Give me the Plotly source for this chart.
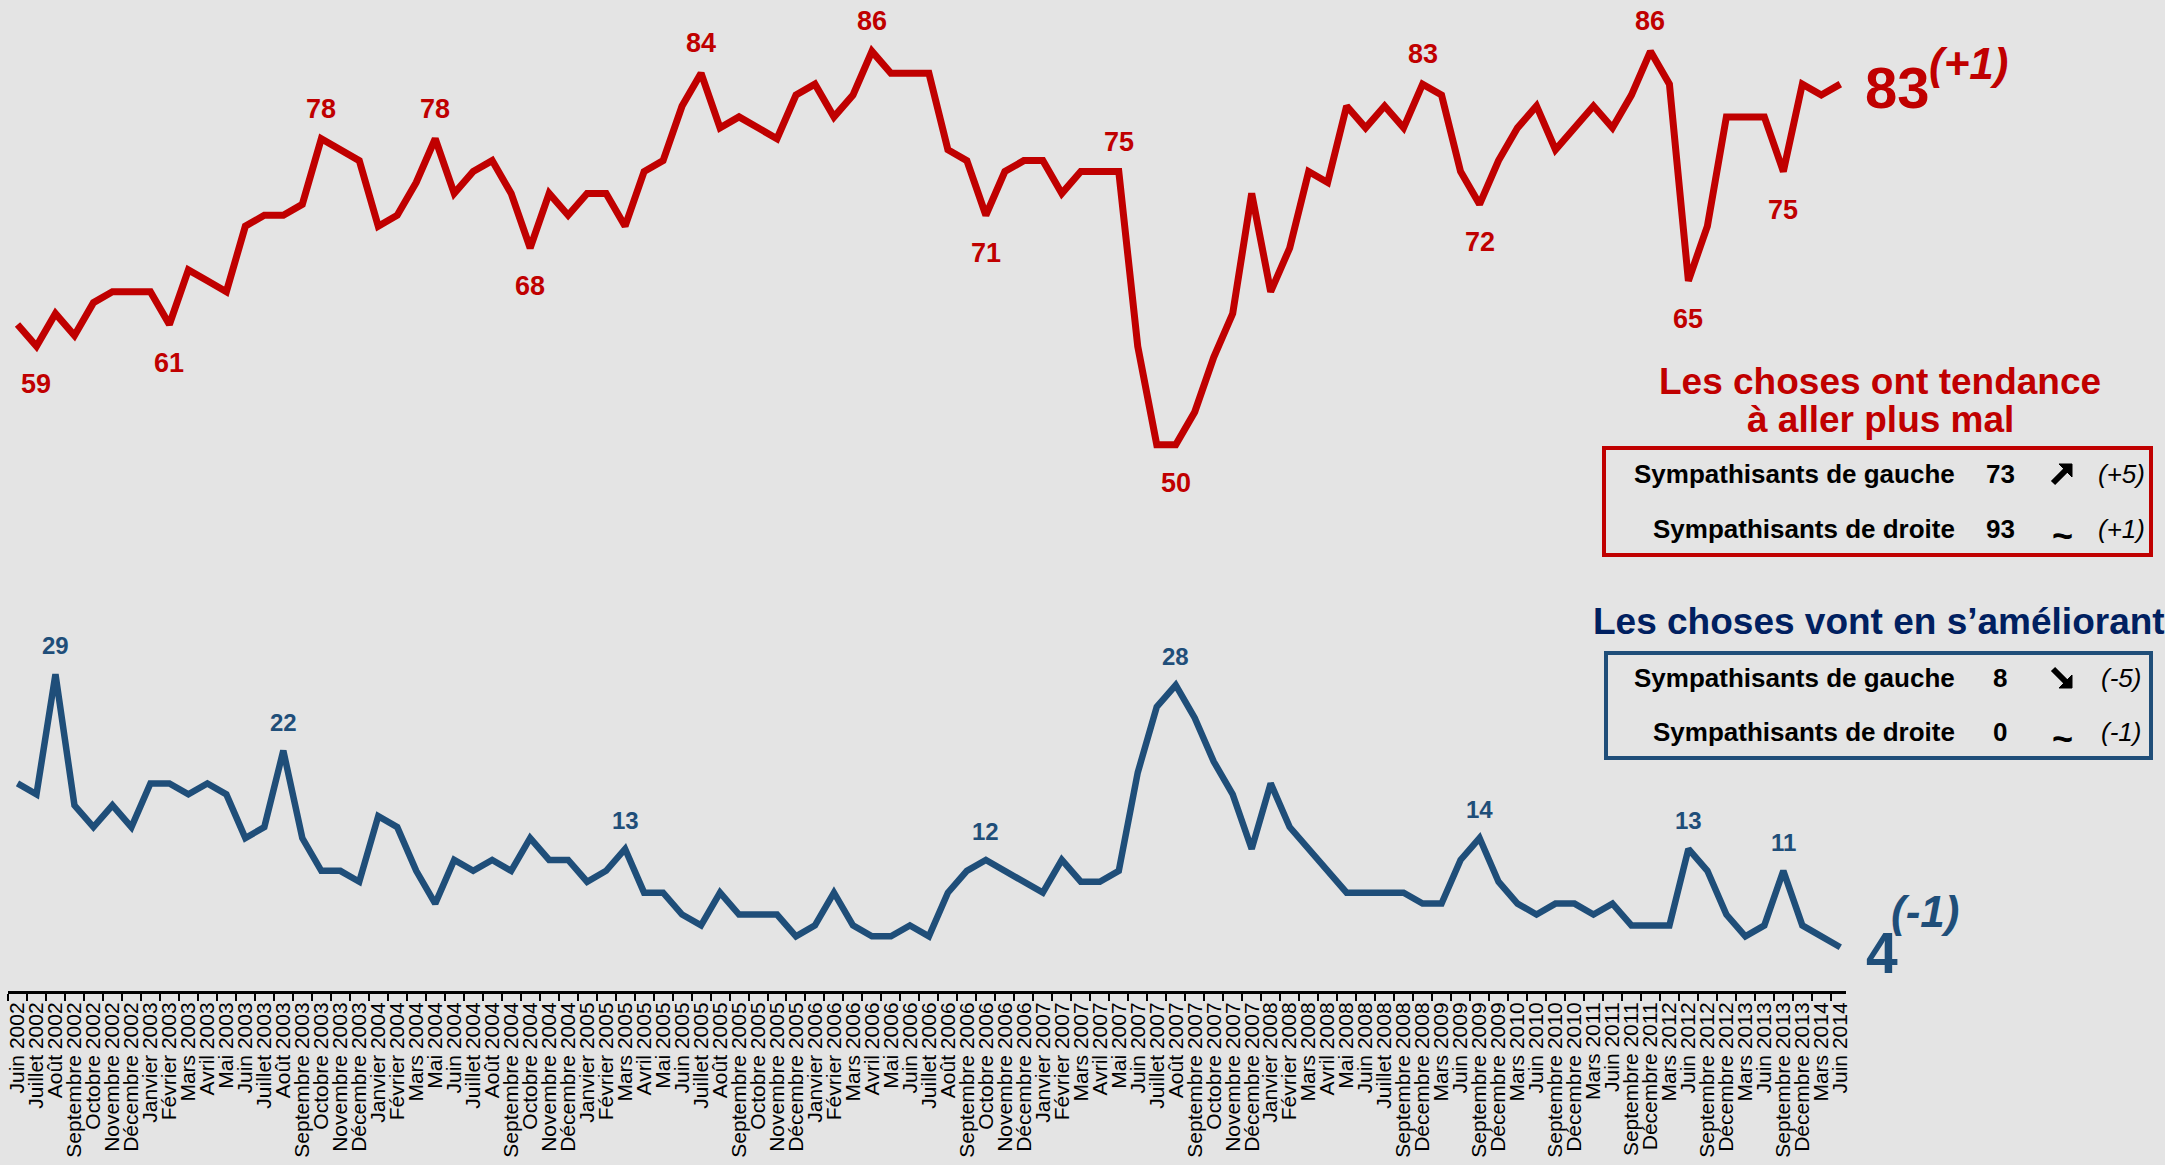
import plotly.graph_objects as go

categories = [
    "Juin 2002", "Juillet 2002", "Août 2002", "Septembre 2002", "Octobre 2002", "Novembre 2002", "Décembre 2002",
    "Janvier 2003", "Février 2003", "Mars 2003", "Avril 2003", "Mai 2003", "Juin 2003", "Juillet 2003", "Août 2003",
    "Septembre 2003", "Octobre 2003", "Novembre 2003", "Décembre 2003",
    "Janvier 2004", "Février 2004", "Mars 2004", "Mai 2004", "Juin 2004", "Juillet 2004", "Août 2004",
    "Septembre 2004", "Octobre 2004", "Novembre 2004", "Décembre 2004",
    "Janvier 2005", "Février 2005", "Mars 2005", "Avril 2005", "Mai 2005", "Juin 2005", "Juillet 2005", "Août 2005",
    "Septembre 2005", "Octobre 2005", "Novembre 2005", "Décembre 2005",
    "Janvier 2006", "Février 2006", "Mars 2006", "Avril 2006", "Mai 2006", "Juin 2006", "Juillet 2006", "Août 2006",
    "Septembre 2006", "Octobre 2006", "Novembre 2006", "Décembre 2006",
    "Janvier 2007", "Février 2007", "Mars 2007", "Avril 2007", "Mai 2007", "Juin 2007", "Juillet 2007", "Août 2007",
    "Septembre 2007", "Octobre 2007", "Novembre 2007", "Décembre 2007",
    "Janvier 2008", "Février 2008", "Mars 2008", "Avril 2008", "Mai 2008", "Juin 2008", "Juillet 2008",
    "Septembre 2008", "Décembre 2008",
    "Mars 2009", "Juin 2009", "Septembre 2009", "Décembre 2009",
    "Mars 2010", "Juin 2010", "Septembre 2010", "Décembre 2010",
    "Mars 2011", "Juin 2011", "Septembre 2011", "Décembre 2011",
    "Mars 2012", "Juin 2012", "Septembre 2012", "Décembre 2012",
    "Mars 2013", "Juin 2013", "Septembre 2013", "Décembre 2013",
    "Mars 2014", "Juin 2014",
]

plus_mal = [
    61, 59, 62, 60, 63, 64, 64, 64, 61, 66,
    65, 64, 70, 71, 71, 72, 78, 77, 76, 70,
    71, 74, 78, 73, 75, 76, 73, 68, 73, 71,
    73, 73, 70, 75, 76, 81, 84, 79, 80, 79,
    78, 82, 83, 80, 82, 86, 84, 84, 84, 77,
    76, 71, 75, 76, 76, 73, 75, 75, 75, 59,
    50, 50, 53, 58, 62, 73, 64, 68, 75, 74,
    81, 79, 81, 79, 83, 82, 75, 72, 76, 79,
    81, 77, 79, 81, 79, 82, 86, 83, 65, 70,
    80, 80, 80, 75, 83, 82, 83,
]

ameliorant = [
    19, 18, 29, 17, 15, 17, 15, 19, 19, 18,
    19, 18, 14, 15, 22, 14, 11, 11, 10, 16,
    15, 11, 8, 12, 11, 12, 11, 14, 12, 12,
    10, 11, 13, 9, 9, 7, 6, 9, 7, 7,
    7, 5, 6, 9, 6, 5, 5, 6, 5, 9,
    11, 12, 11, 10, 9, 12, 10, 10, 11, 20,
    26, 28, 25, 21, 18, 13, 19, 15, 13, 11,
    9, 9, 9, 9, 8, 8, 12, 14, 10, 8,
    7, 8, 8, 7, 8, 6, 6, 6, 13, 11,
    7, 5, 6, 11, 6, 5, 4,
]

# which points carry a value label
red_labels_above = [16, 22, 36, 45, 58, 74, 86]
red_labels_below = [1, 8, 27, 51, 61, 77, 88, 93]
blue_labels_above = [2, 14, 32, 51, 61, 77, 88, 93]

red_last_change = "(+1)"
blue_last_change = "(-1)"

red_title_lines = ["Les choses ont tendance", "à aller plus mal"]
blue_title = "Les choses vont en s’améliorant"
row_labels = ["Sympathisants de gauche", "Sympathisants de droite"]
red_values = ["73", "93"]
red_trends = ["up", "flat"]
red_changes = ["(+5)", "(+1)"]
blue_values = ["8", "0"]
blue_trends = ["down", "flat"]
blue_changes = ["(-5)", "(-1)"]

RED = "#C00000"
BLUE = "#1F4E79"
NAVY = "#002060"
BG = "#E4E4E4"
FONT = "Liberation Sans, Arial, sans-serif"

W, H = 2165, 1165


def px(x):
    return x / W


def py(y):
    return 1 - y / H


fig = go.Figure()
fig.add_trace(go.Scatter(x=categories, y=plus_mal, mode="lines",
                         line=dict(color=RED, width=7), hoverinfo="x+y", showlegend=False))
fig.add_trace(go.Scatter(x=categories, y=ameliorant, mode="lines",
                         line=dict(color=BLUE, width=6.5), hoverinfo="x+y", showlegend=False))

ann = []
for i in red_labels_above:
    ann.append(dict(x=categories[i], y=plus_mal[i], xref="x", yref="y", text=str(plus_mal[i]),
                    showarrow=False, yanchor="bottom", yshift=13,
                    font=dict(family=FONT, size=27, color=RED, weight="bold")))
for i in red_labels_below:
    ann.append(dict(x=categories[i], y=plus_mal[i], xref="x", yref="y", text=str(plus_mal[i]),
                    showarrow=False, yanchor="top", yshift=-21,
                    font=dict(family=FONT, size=27, color=RED, weight="bold")))
for i in blue_labels_above:
    ann.append(dict(x=categories[i], y=ameliorant[i], xref="x", yref="y", text=str(ameliorant[i]),
                    showarrow=False, yanchor="bottom", yshift=13,
                    font=dict(family=FONT, size=24, color=BLUE, weight="bold")))

# final values
ann.append(dict(x=px(1863), y=py(87), xref="paper", yref="paper", text=str(plus_mal[-1]),
                showarrow=False, xanchor="left", yanchor="middle",
                font=dict(family=FONT, size=58, color=RED, weight="bold")))
ann.append(dict(x=px(1927), y=py(64), xref="paper", yref="paper", text=red_last_change,
                showarrow=False, xanchor="left", yanchor="middle",
                font=dict(family=FONT, size=44, color=RED, weight="bold", style="italic")))
ann.append(dict(x=px(1864), y=py(953), xref="paper", yref="paper", text=str(ameliorant[-1]),
                showarrow=False, xanchor="left", yanchor="middle",
                font=dict(family=FONT, size=57, color=BLUE, weight="bold")))
ann.append(dict(x=px(1889), y=py(911), xref="paper", yref="paper", text=blue_last_change,
                showarrow=False, xanchor="left", yanchor="middle",
                font=dict(family=FONT, size=44, color=BLUE, weight="bold", style="italic")))

# right-hand panels
for line_text, yy in zip(red_title_lines, [381, 419]):
    ann.append(dict(x=px(1880), y=py(yy), xref="paper", yref="paper", text=line_text,
                    showarrow=False, xanchor="center", yanchor="middle",
                    font=dict(family=FONT, size=37, color=RED, weight="bold")))
ann.append(dict(x=px(1591), y=py(621), xref="paper", yref="paper", text=blue_title,
                showarrow=False, xanchor="left", yanchor="middle",
                font=dict(family=FONT, size=37, color=NAVY, weight="bold")))

shapes = [
    dict(type="rect", xref="paper", yref="paper", x0=px(1604), x1=px(2151), y0=py(448), y1=py(555),
         line=dict(color=RED, width=4), fillcolor="rgba(0,0,0,0)"),
    dict(type="rect", xref="paper", yref="paper", x0=px(1606), x1=px(2151), y0=py(653), y1=py(758),
         line=dict(color=BLUE, width=4), fillcolor="rgba(0,0,0,0)"),
]


def arrow_shapes(cx, cy, direction):
    s = 1 if direction == "down" else -1
    head = [(10, 10 * s), (-3, 10 * s), (10, -3 * s)]
    path = "M " + " L ".join(f"{px(cx + dx):.6f},{py(cy + dy):.6f}" for dx, dy in head) + " Z"
    return [
        dict(type="path", xref="paper", yref="paper", path=path,
             fillcolor="black", line=dict(color="black", width=1)),
        dict(type="line", xref="paper", yref="paper",
             x0=px(cx - 9), y0=py(cy - 9 * s), x1=px(cx + 4), y1=py(cy + 4 * s),
             line=dict(color="black", width=6)),
    ]


def add_rows(rows_y, values, trends, changes):
    for k, yy in enumerate(rows_y):
        ann.append(dict(x=px(1957), y=py(yy), xref="paper", yref="paper", text=row_labels[k],
                        showarrow=False, xanchor="right", yanchor="middle",
                        font=dict(family=FONT, size=26, color="black", weight="bold")))
        ann.append(dict(x=px(2000), y=py(yy), xref="paper", yref="paper", text=values[k],
                        showarrow=False, xanchor="center", yanchor="middle",
                        font=dict(family=FONT, size=26, color="black", weight="bold")))
        tr = trends[k]
        if tr == "flat":
            ann.append(dict(x=px(2062), y=py(yy + 6), xref="paper", yref="paper", text="~",
                            showarrow=False, xanchor="center", yanchor="middle",
                            font=dict(family=FONT, size=36, color="black", weight="bold")))
        else:
            shapes.extend(arrow_shapes(2062, yy, tr))
        ann.append(dict(x=px(2121), y=py(yy), xref="paper", yref="paper", text=changes[k],
                        showarrow=False, xanchor="center", yanchor="middle",
                        font=dict(family=FONT, size=26, color="black", style="italic")))


add_rows([474, 529], red_values, red_trends, red_changes)
add_rows([678, 732], blue_values, blue_trends, blue_changes)

fig.update_layout(
    width=W, height=H,
    margin=dict(l=0, r=0, t=0, b=0),
    paper_bgcolor=BG, plot_bgcolor=BG,
    showlegend=False,
    annotations=ann,
    shapes=shapes,
    xaxis=dict(
        type="category",
        domain=[px(8), px(1846)],
        range=[-0.5, 96.3],
        tickmode="linear", tick0=0, dtick=1,
        showgrid=False, zeroline=False,
        showline=True, linecolor="black", linewidth=3,
        ticks="outside", ticklen=7, tickwidth=1.5, tickcolor="black",
        tickson="boundaries",
        tickangle=-90,
        tickfont=dict(family=FONT, size=21, color="black"),
        automargin=False,
        fixedrange=True,
    ),
    yaxis=dict(
        domain=[py(991), 1],
        range=[0, 90.7],
        visible=False,
        fixedrange=True,
    ),
)

fig.write_html("out.html", config={"displayModeBar": False},
               post_script="document.body.style.margin='0';document.body.style.overflow='hidden';")
